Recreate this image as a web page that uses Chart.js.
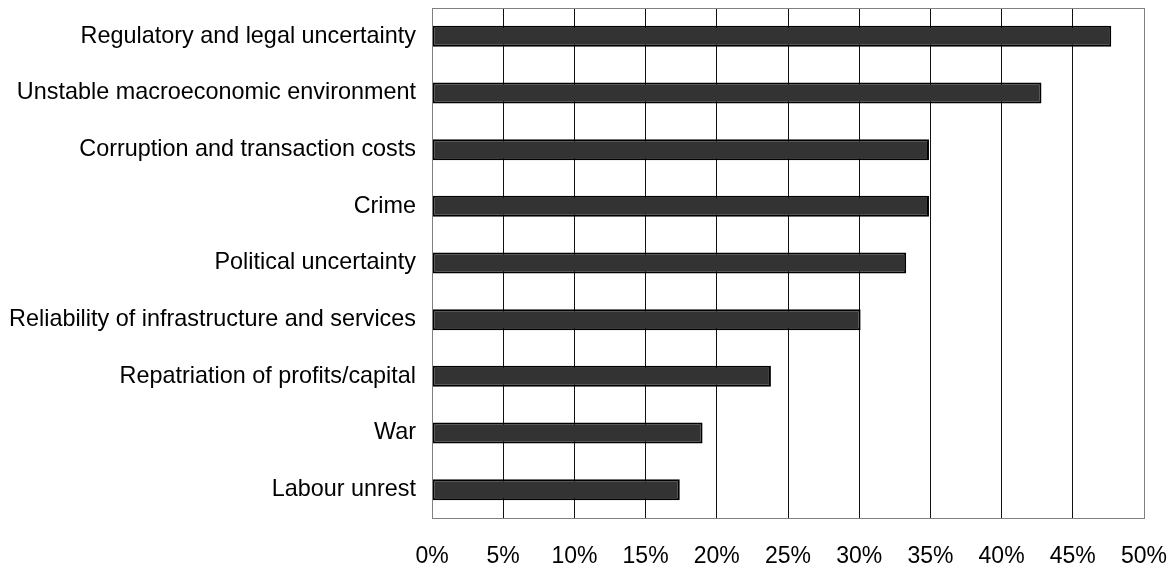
<!DOCTYPE html>
<html>
<head>
<meta charset="utf-8">
<script src="https://cdn.jsdelivr.net/npm/chart.js@4"></script>
<style>
  html, body { margin: 0; padding: 0; background: #fff; }
  #wrap { width: 1176px; height: 567px; }
</style>
</head>
<body>
<div id="wrap"><canvas id="riskChart"></canvas></div>
<script>
// categories, top to bottom
const categories = [
    'Regulatory and legal uncertainty',
    'Unstable macroeconomic environment',
    'Corruption and transaction costs',
    'Crime',
    'Political uncertainty',
    'Reliability of infrastructure and services',
    'Repatriation of profits/capital',
    'War',
    'Labour unrest'
];
// share of respondents, %
const shares = [47.7, 42.8, 34.9, 34.9, 33.3, 30.1, 23.8, 19.0, 17.4];
const xTicks = [0, 5, 10, 15, 20, 25, 30, 35, 40, 45, 50];

const FONT = '"Liberation Sans", Arial, sans-serif';

// frame round the plot area (top + right edges)
const frame = {
    id: 'frame',
    afterDraw(chart) {
        const { ctx, chartArea: a } = chart;
        ctx.save();
        ctx.strokeStyle = '#808080';
        ctx.lineWidth = 1;
        ctx.strokeRect(a.left + 0.5, a.top + 0.5, a.right - a.left, a.bottom - a.top);
        ctx.restore();
    }
};

new Chart(document.getElementById('riskChart'), {
    type: 'bar',
    data: {
        labels: categories,
        datasets: [{
            data: shares,
            backgroundColor: '#333333',
            borderColor: '#000000',
            borderWidth: 2,
            borderSkipped: false,
            barPercentage: 0.37,
            categoryPercentage: 1
        }]
    },
    options: {
        indexAxis: 'y',
        responsive: true,
        maintainAspectRatio: false,
        animation: false,
        layout: { padding: { top: 8, right: 32, bottom: 0, left: 0 } },
        plugins: { legend: { display: false }, tooltip: { enabled: false } },
        scales: {
            x: {
                min: 0,
                max: 50,
                afterBuildTicks: s => { s.ticks = xTicks.map(v => ({ value: v })); },
                afterFit: s => { s.height = 49; s.paddingLeft = 0; s.paddingRight = 0; },
                grid: { color: '#111', lineWidth: 1, drawTicks: false },
                border: { color: '#808080' },
                ticks: {
                    padding: 25,
                    color: '#000',
                    font: { family: FONT, size: 23 },
                    callback: v => v + '%'
                }
            },
            y: {
                afterFit: s => { s.width = 432; s.paddingTop = 0; s.paddingBottom = 0; },
                grid: { display: false, drawTicks: false },
                border: { color: '#808080' },
                ticks: {
                    padding: 16,
                    color: '#000',
                    font: { family: FONT, size: 23.4 }
                }
            }
        }
    },
    plugins: [frame]
});
</script>
</body>
</html>
